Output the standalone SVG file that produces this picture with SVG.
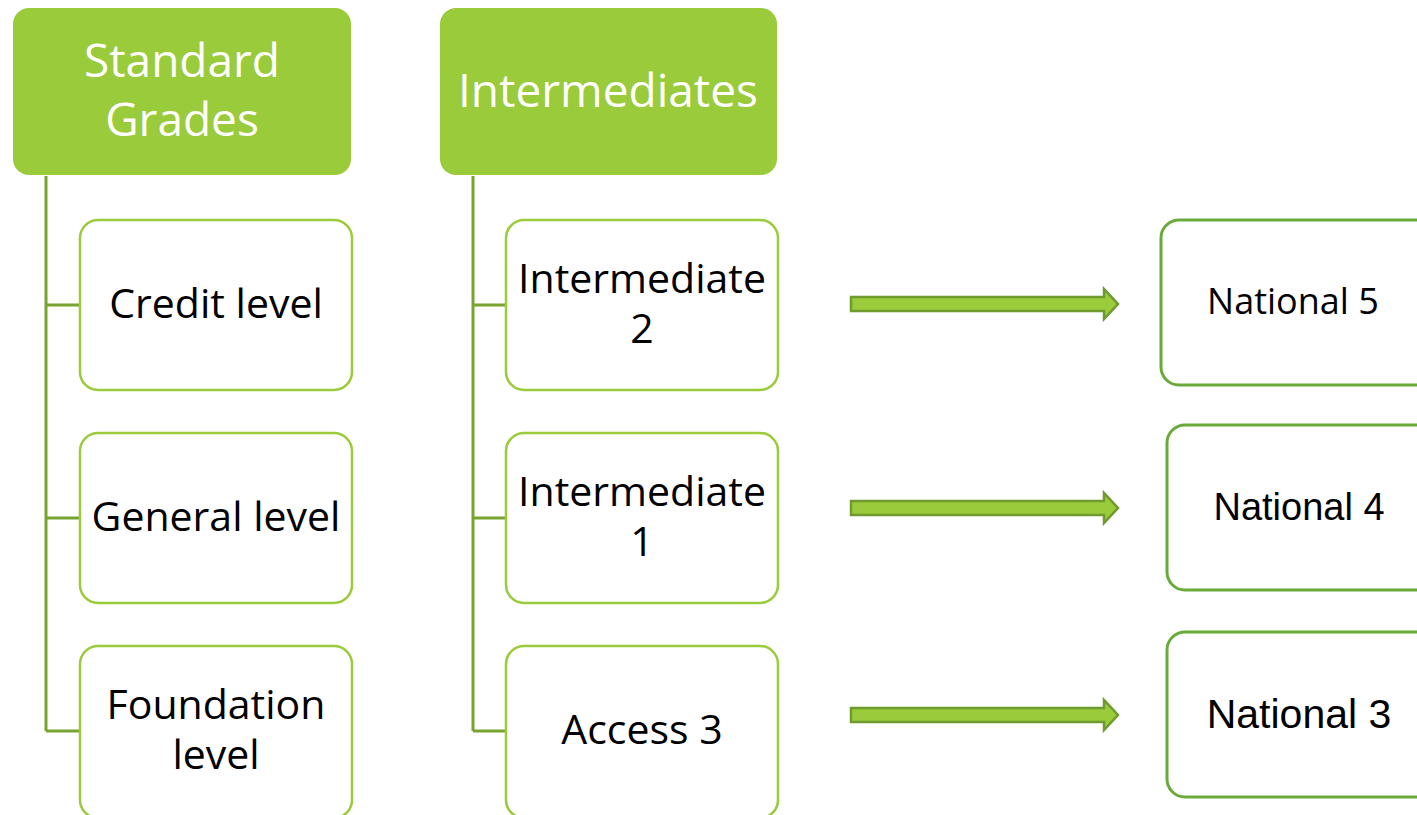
<svg xmlns="http://www.w3.org/2000/svg" width="1417" height="815" viewBox="0 0 1417 815">
<style>
.hdr{fill:#9acb3a}
.hdrt{font-family:"Open Sans",sans-serif;font-size:46px;fill:#fff;text-anchor:middle}
.child{fill:#fff;stroke:#9acb3a;stroke-width:2.5}
.ct{font-family:"Open Sans",sans-serif;font-size:41px;fill:#000;text-anchor:middle}
.nat{fill:#fff;stroke:#6aaa3a;stroke-width:3}
.nt{font-family:"Liberation Sans",Arial,sans-serif;font-size:38px;fill:#000;text-anchor:middle}
.nt5{font-family:"Open Sans",sans-serif;font-size:36px;fill:#000;text-anchor:middle}
.line{fill:none;stroke:#77a32e;stroke-width:3}
.arr{fill:#9acb3a;stroke:#6e9a2e;stroke-width:2.5;stroke-linejoin:miter}
</style>
<g id="connectors">
<path class="line" d="M46 176V731M46 305H80M46 518H80M46 731H80"/>
<path class="line" d="M473 176V731M473 305H506M473 518H506M473 731H506"/>
<path class="arr" d="M851 297H1104V289L1118 304L1104 319V311H851Z"/>
<path class="arr" d="M851 501H1104V493L1118 508L1104 523V515H851Z"/>
<path class="arr" d="M851 708H1104V700L1118 715L1104 730V722H851Z"/>
</g>
<g id="standard-grades">
<rect class="hdr" x="13" y="8" width="338" height="167" rx="16"/>
<text class="hdrt" x="182" y="77">Standard</text>
<text class="hdrt" x="182" y="136">Grades</text>
</g>
<g id="intermediates">
<rect class="hdr" x="440" y="8" width="337" height="167" rx="16"/>
<text class="hdrt" x="608" y="107">Intermediates</text>
</g>
<g id="credit">
<rect class="child" x="80" y="220" width="272" height="170" rx="18"/>
<text class="ct" x="216" y="318">Credit level</text>
</g>
<g id="general">
<rect class="child" x="80" y="433" width="272" height="170" rx="18"/>
<text class="ct" x="216" y="531">General level</text>
</g>
<g id="foundation">
<rect class="child" x="80" y="646" width="272" height="172" rx="18"/>
<text class="ct" x="216" y="719">Foundation</text>
<text class="ct" x="216" y="769">level</text>
</g>
<g id="int2">
<rect class="child" x="506" y="220" width="272" height="170" rx="18"/>
<text class="ct" x="642" y="293">Intermediate</text>
<text class="ct" x="642" y="343">2</text>
</g>
<g id="int1">
<rect class="child" x="506" y="433" width="272" height="170" rx="18"/>
<text class="ct" x="642" y="506">Intermediate</text>
<text class="ct" x="642" y="556">1</text>
</g>
<g id="access3">
<rect class="child" x="506" y="646" width="272" height="172" rx="18"/>
<text class="ct" x="642" y="744">Access 3</text>
</g>
<g id="national5">
<rect class="nat" x="1161" y="220" width="280" height="165" rx="18"/>
<text class="nt5" x="1293" y="314">National 5</text>
</g>
<g id="national4">
<rect class="nat" x="1167" y="425" width="280" height="165" rx="18"/>
<text class="nt" x="1299" y="520">National 4</text>
</g>
<g id="national3">
<rect class="nat" x="1167" y="632" width="280" height="165" rx="18"/>
<text class="nt" x="1299" y="728" style="font-size:41px">National 3</text>
</g>
</svg>
